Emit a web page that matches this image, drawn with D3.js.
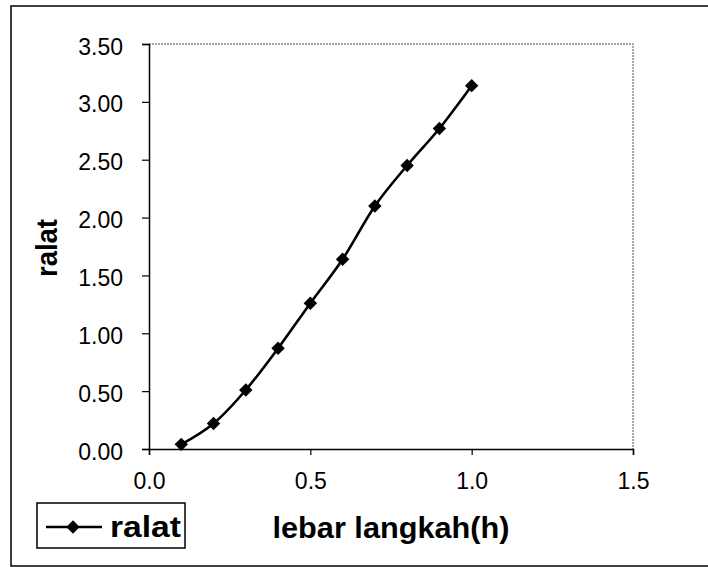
<!DOCTYPE html>
<meta charset="utf-8">
<head>
    <style>
        body { margin: 0; background: #fff; }
        text { font-family: "Liberation Sans", Arial, sans-serif; fill: #000; }
    </style>
</head>

<body>
    <div id="chart"></div>

    <script src="https://d3js.org/d3.v7.min.js"></script>

    <script>
        // data
        let step_h = [0.1, 0.2, 0.3, 0.4, 0.5, 0.6, 0.7, 0.8, 0.9, 1.0];
        let ralat = [0.04, 0.22, 0.51, 0.87, 1.26, 1.64, 2.10, 2.45, 2.77, 3.14];
        let x_ticks = [0.0, 0.5, 1.0, 1.5];
        let y_ticks = [0.0, 0.5, 1.0, 1.5, 2.0, 2.5, 3.0, 3.5];
        let series_name = 'ralat';
        let x_title = 'lebar langkah(h)';
        let y_title = 'ralat';

        // chart default setting
        let svgWidth = 708;
        let svgHeight = 567;
        let plot = {left: 149, right: 633, top: 44, bottom: 449};

        let data = step_h.map((h, i) => ({x: h, y: ralat[i]}));

        let svg = d3.select('#chart')
                    .append('svg')
                    .attr('width', svgWidth)
                    .attr('height', svgHeight);

        // outer frame (right side runs off the page)
        svg.append('rect')
            .attr('x', 11).attr('y', 6)
            .attr('width', 760).attr('height', 560)
            .attr('fill', 'none')
            .attr('stroke', '#000')
            .attr('stroke-width', 1.5);

        // scales
        let x = d3.scaleLinear().domain([0, 1.5]).range([plot.left, plot.right]);
        let y = d3.scaleLinear().domain([0, 3.5]).range([plot.bottom, plot.top]);

        // plot area border top / right (grey)
        svg.append('path')
            .attr('d', `M${plot.left},${plot.top}H${plot.right}V${plot.bottom}`)
            .attr('fill', 'none')
            .attr('stroke', '#8a8a8a')
            .attr('stroke-width', 1.5)
            .attr('stroke-dasharray', '2,1');

        // axes
        let xAxis = svg.append('g')
            .attr('transform', `translate(0, ${plot.bottom})`)
            .call(d3.axisBottom(x).tickValues(x_ticks).tickFormat(d3.format('.1f')).tickSize(6).tickPadding(18));
        let yAxis = svg.append('g')
            .attr('transform', `translate(${plot.left}, 0)`)
            .call(d3.axisLeft(y).tickValues(y_ticks).tickFormat(d3.format('.2f')).tickSize(7).tickPadding(19));

        [xAxis, yAxis].forEach(ax => {
            ax.select('.domain').attr('stroke', '#000').attr('stroke-width', 1.5);
            ax.selectAll('.tick line').attr('stroke', '#000').attr('stroke-width', 1.2);
            ax.selectAll('.tick text')
                .attr('font-family', '"Liberation Sans", Arial, sans-serif')
                .attr('font-size', 23)
                .attr('fill', '#000');
        });
        xAxis.selectAll('.tick text').attr('dy', '0.71em');
        yAxis.selectAll('.tick text').attr('dy', '0.44em');

        // smoothed line
        let line = d3.line()
            .x(d => x(d.x))
            .y(d => y(d.y))
            .curve(d3.curveCardinal.tension(0));

        svg.append('path')
            .datum(data)
            .attr('d', line)
            .attr('fill', 'none')
            .attr('stroke', '#000')
            .attr('stroke-width', 2.6);

        // diamond markers
        let diamond = d3.symbol().type(d3.symbolSquare).size(90);
        svg.selectAll('.marker')
            .data(data)
            .enter()
            .append('path')
            .attr('class', 'marker')
            .attr('d', diamond)
            .attr('transform', d => `translate(${x(d.x)}, ${y(d.y)}) rotate(45)`)
            .attr('fill', '#000');

        // axis titles
        svg.append('text')
            .attr('x', 391).attr('y', 538)
            .attr('text-anchor', 'middle')
            .attr('font-size', 29)
            .attr('font-weight', 'bold')
            .attr('textLength', 237)
            .attr('lengthAdjust', 'spacingAndGlyphs')
            .text(x_title);

        svg.append('text')
            .attr('transform', 'translate(57, 248) rotate(-90)')
            .attr('text-anchor', 'middle')
            .attr('font-size', 29)
            .attr('font-weight', 'bold')
            .attr('textLength', 58)
            .attr('lengthAdjust', 'spacingAndGlyphs')
            .text(y_title);

        // legend
        let legend = svg.append('g');
        legend.append('rect')
            .attr('x', 37).attr('y', 503)
            .attr('width', 148).attr('height', 45)
            .attr('fill', '#fff')
            .attr('stroke', '#000')
            .attr('stroke-width', 1.5);
        legend.append('line')
            .attr('x1', 46).attr('x2', 102)
            .attr('y1', 527).attr('y2', 527)
            .attr('stroke', '#000')
            .attr('stroke-width', 2.4);
        legend.append('path')
            .attr('d', diamond)
            .attr('transform', 'translate(73, 527) rotate(45)')
            .attr('fill', '#000');
        legend.append('text')
            .attr('x', 110).attr('y', 537)
            .attr('font-size', 29)
            .attr('font-weight', 'bold')
            .attr('textLength', 71)
            .attr('lengthAdjust', 'spacingAndGlyphs')
            .text(series_name);
    </script>
</body>
